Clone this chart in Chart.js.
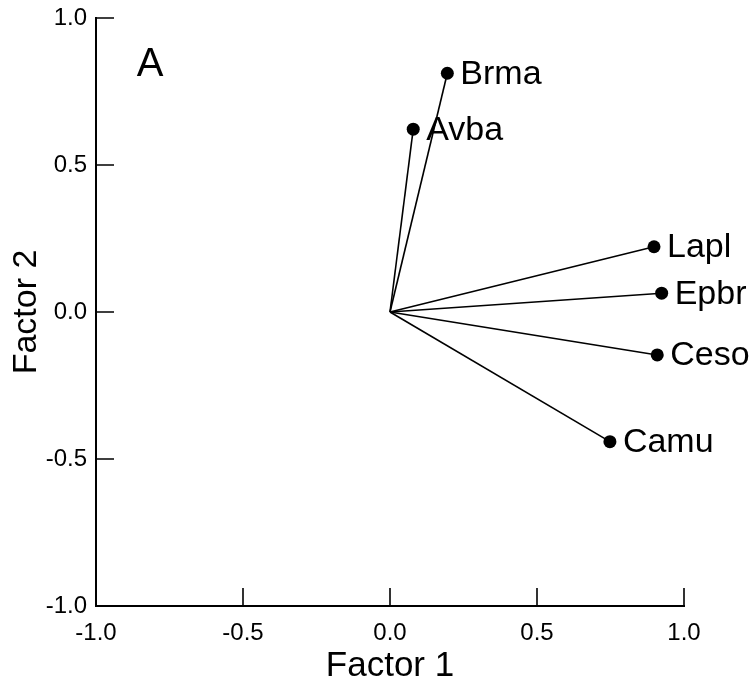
<!DOCTYPE html>
<html>
<head>
<meta charset="utf-8">
<script src="https://cdn.jsdelivr.net/npm/chart.js@4"></script>
<style>
  html, body { margin: 0; padding: 0; background: #fff; }
  #wrap { width: 752px; height: 684px; }
</style>
</head>
<body>
<div id="wrap"><canvas id="loadings"></canvas></div>
<script>
// loadings
const species = ['Brma', 'Avba', 'Lapl', 'Epbr', 'Ceso', 'Camu'];
const factor1 = [0.195, 0.079, 0.898, 0.924, 0.909, 0.748];
const factor2 = [0.812, 0.622, 0.222, 0.064, -0.146, -0.441];
const tickValues = [-1.0, -0.5, 0.0, 0.5, 1.0];

const FONT = '"Liberation Sans", Arial, sans-serif';

// one line dataset per species: origin -> loading
const datasets = species.map((name, i) => ({
    label: name,
    data: [{x: 0, y: 0}, {x: factor1[i], y: factor2[i]}],
    borderColor: '#000',
    borderWidth: 1.6,
    pointRadius: [0, 6.5],
    pointBackgroundColor: '#000',
    pointBorderWidth: 0,
    showLine: true
}));

// ticks pointing inward, like the original
const innerTicks = {
    id: 'innerTicks',
    afterDraw(chart) {
        const ctx = chart.ctx;
        const {x, y} = chart.scales;
        ctx.save();
        ctx.strokeStyle = '#000';
        ctx.lineWidth = 1.6;
        ctx.beginPath();
        tickValues.forEach(v => {
            const px = x.getPixelForValue(v);
            ctx.moveTo(px, x.top);
            ctx.lineTo(px, x.top - 18);
            const py = y.getPixelForValue(v);
            ctx.moveTo(y.right, py);
            ctx.lineTo(y.right + 18, py);
        });
        ctx.stroke();
        ctx.restore();
    }
};

// species names and panel letter
const labels = {
    id: 'labels',
    afterDatasetsDraw(chart) {
        const ctx = chart.ctx;
        const {x, y} = chart.scales;
        ctx.save();
        ctx.fillStyle = '#000';
        ctx.textBaseline = 'middle';
        ctx.textAlign = 'left';
        ctx.font = '34px ' + FONT;
        species.forEach((name, i) => {
            ctx.fillText(name, x.getPixelForValue(factor1[i]) + 13, y.getPixelForValue(factor2[i]) + 1);
        });
        ctx.font = '40px ' + FONT;
        ctx.textAlign = 'center';
        ctx.fillText('A', x.getPixelForValue(-0.816), y.getPixelForValue(0.84));
        ctx.restore();
    }
};

new Chart(document.getElementById('loadings'), {
    type: 'scatter',
    data: { datasets },
    options: {
        responsive: true,
        maintainAspectRatio: false,
        animation: false,
        layout: { padding: { left: 0, top: 18, right: 68, bottom: 0 } },
        plugins: { legend: { display: false }, tooltip: { enabled: false } },
        scales: {
            x: {
                type: 'linear',
                min: -1, max: 1,
                afterFit(s) { s.height = 78; s.paddingLeft = 0; s.paddingRight = 0; },
                afterBuildTicks(s) { s.ticks = tickValues.map(v => ({value: v})); },
                grid: { display: false, drawTicks: false },
                border: { display: true, color: '#000', width: 2 },
                ticks: {
                    color: '#000',
                    padding: 13,
                    font: { family: FONT, size: 24 },
                    callback: v => v.toFixed(1)
                },
                title: {
                    display: true,
                    text: 'Factor 1',
                    color: '#000',
                    font: { family: FONT, size: 35 },
                    padding: { top: 0, bottom: -3 }
                }
            },
            y: {
                type: 'linear',
                min: -1, max: 1,
                afterFit(s) { s.width = 96; s.paddingTop = 0; s.paddingBottom = 0; },
                afterBuildTicks(s) { s.ticks = tickValues.map(v => ({value: v})); },
                grid: { display: false, drawTicks: false },
                border: { display: true, color: '#000', width: 2 },
                ticks: {
                    color: '#000',
                    padding: 9,
                    font: { family: FONT, size: 24 },
                    callback: v => v.toFixed(1)
                },
                title: {
                    display: true,
                    text: 'Factor 2',
                    color: '#000',
                    font: { family: FONT, size: 34 },
                    padding: { top: 6, bottom: 0 }
                }
            }
        }
    },
    plugins: [innerTicks, labels]
});
</script>
</body>
</html>
